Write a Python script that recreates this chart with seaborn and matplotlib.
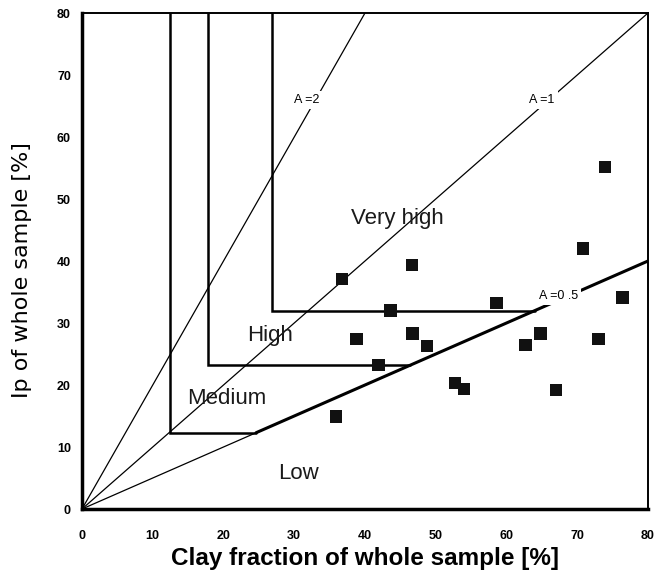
import matplotlib
matplotlib.use("Agg")
import matplotlib.pyplot as plt
import seaborn as sns
import pandas as pd
import numpy as np

# Data points (clay fraction %, Ip %)
clay = [36.7, 46.6, 43.6, 58.6, 38.8, 46.7, 48.8, 41.9, 52.7, 54.0, 35.9,
        70.8, 76.4, 64.8, 62.7, 73.0, 67.0, 73.9]
ip = [37.1, 39.3, 32.0, 33.2, 27.4, 28.3, 26.3, 23.2, 20.3, 19.3, 14.9,
      42.0, 34.1, 28.3, 26.4, 27.4, 19.2, 55.2]

# Activity lines (slope A)
activity = [2, 1, 0.5]
activity_labels = ["A =2", "A =1", "A =0 .5"]
activity_xmax = [40, 80, 80]

# Class boundaries: corner (x, y) of each step boundary, and horizontal end x
bound_x = [12.4, 17.8, 26.8]
bound_y = [12.3, 23.2, 32.0]
bound_xend = [24.6, 46.4, 64.0]

# Region labels
region_names = ["Low", "Medium", "High", "Very high"]
region_x = [30.6, 20.4, 26.6, 44.6]
region_y = [5.8, 17.8, 28.0, 46.9]

label_x = [31.8, 65.0, 67.3]
label_y = [66.0, 66.0, 34.3]

sns.set_style("white")
plt.rcParams['font.family'] = ['Liberation Sans', 'DejaVu Sans']
plt.rcParams['text.color'] = 'black'
plt.rcParams['axes.labelcolor'] = 'black'
plt.rcParams['xtick.color'] = 'black'
plt.rcParams['ytick.color'] = 'black'

fig = plt.figure(figsize=(6.58, 5.81), dpi=100)
ax = fig.add_axes([82/658, 1-509/581, 566/658, 496/581])

# activity lines
for a, xm in zip(activity, activity_xmax):
    xs = np.array([0, xm])
    if a == 0.5:
        xb = bound_xend[0]
        ax.plot([0, xb], [0, a*xb], color="black", lw=0.9, zorder=2)
        ax.plot([xb, xm], [a*xb, a*xm], color="black", lw=2.2, zorder=2)
    else:
        ax.plot(xs, a*xs, color="black", lw=0.9, zorder=2)

# boundaries
for bx, by, bxe in zip(bound_x, bound_y, bound_xend):
    ax.plot([bx, bx, bxe], [80, by, by], color="black", lw=1.8, zorder=2,
            solid_joinstyle="miter")

# labels on activity lines
for lx, ly, lt in zip(label_x, label_y, activity_labels):
    ax.text(lx, ly, lt, fontsize=9, ha="center", va="center", zorder=3,
            bbox=dict(boxstyle="square,pad=0.25", fc="white", ec="none"))

for rx, ry, rn in zip(region_x, region_y, region_names):
    ax.text(rx, ry, rn, fontsize=16, ha="center", va="center", zorder=3,
            color="#1a1a1a")

df = pd.DataFrame({"clay": clay, "ip": ip})
sns.scatterplot(data=df, x="clay", y="ip", marker="s", s=78, color="#111111",
                edgecolor="none", ax=ax, zorder=4)

ax.set_xlim(0, 80)
ax.set_ylim(0, 80)
ax.set_xticks(range(0, 81, 10))
ax.set_yticks(range(0, 81, 10))
ax.tick_params(axis="both", direction="out", length=3, width=1.5,
               labelsize=9, color="black")
ax.tick_params(axis="x", pad=12)
ax.tick_params(axis="y", pad=5)
for lbl in ax.get_xticklabels() + ax.get_yticklabels():
    lbl.set_fontweight("bold")

ax.set_xlabel("Clay fraction of whole sample [%]", fontsize=17.5,
              fontweight="bold", labelpad=4)
ax.set_ylabel("Ip of whole sample [%]", fontsize=16, family=["DejaVu Sans"])
ax.yaxis.set_label_coords(-0.088, 0.482)

for side in ["left", "bottom"]:
    ax.spines[side].set_linewidth(2.5)
    ax.spines[side].set_color("black")
for side in ["top", "right"]:
    ax.spines[side].set_linewidth(1.4)
    ax.spines[side].set_color("black")

fig.savefig("out.png", dpi=100)
